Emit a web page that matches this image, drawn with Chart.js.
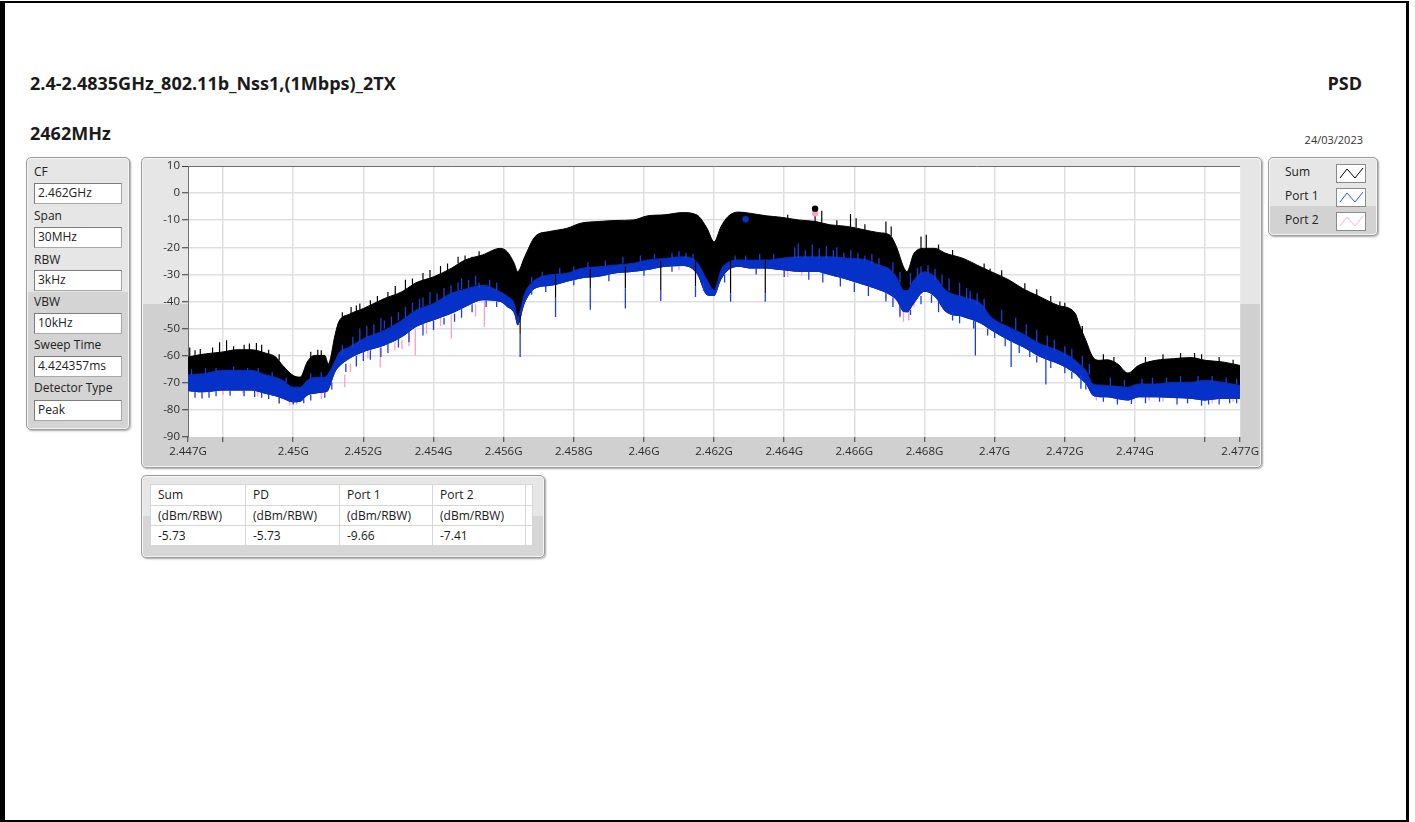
<!DOCTYPE html>
<html>
<head>
<meta charset="utf-8">
<script src="https://cdn.jsdelivr.net/npm/chart.js@4/dist/chart.umd.min.js"></script>
<style>
  html, body { margin: 0; padding: 0; background: #fff; }
  body { width: 1415px; height: 822px; position: relative; overflow: hidden; font-family: "Open Sans", "Noto Sans", sans-serif; color: #1a1a1a; }
  .frame { position: absolute; left: 0; top: 1px; width: 1401px; height: 817px; border-top: 2px solid #000; border-bottom: 2px solid #000; border-left: 5px solid #000; border-right: 3px solid #000; }
  .t { position: absolute; white-space: nowrap; line-height: 1; }
  .panel { position: absolute; border: 1px solid #9c9c9c; border-radius: 5px; box-shadow: 1px 1px 2px rgba(0,0,0,0.35), inset 0 0 0 1px #f4f4f4; box-sizing: border-box; }
  .box { position: absolute; background: #fff; border: 1px solid #a8a8a8; border-top-color: #7d7d7d; border-left-color: #7d7d7d; box-sizing: border-box; }
  .sw { position: absolute; background: #fff; border: 1px solid #8a8a8a; box-sizing: border-box; width: 30px; height: 19px; left: 1336px; }
  table.res { position: absolute; left: 150px; top: 484px; border-collapse: collapse; background: #fff; font-size: 12px; }
  table.res td { border: 1px solid #d6d6d6; height: 19px; padding: 0 0 0 7px; box-sizing: border-box; vertical-align: middle; line-height: 1; }
</style>
</head>
<body>
<div class="frame"></div>

<div class="t" style="left:30px; top:74px; font-size:18px; font-weight:700;">2.4-2.4835GHz_802.11b_Nss1,(1Mbps)_2TX</div>
<div class="t" style="right:53px; top:74px; font-size:18px; font-weight:700;">PSD</div>
<div class="t" style="left:30px; top:124px; font-size:18px; font-weight:700;">2462MHz</div>
<div class="t" style="right:52px; top:134px; font-size:11px; color:#333;">24/03/2023</div>

<div class="panel" style="left:26px; top:157px; width:104px; height:273px; background: linear-gradient(#e6e6e6 0, #e6e6e6 134px, #d4d4d4 134px);"></div>
<div id="settings"></div>

<div class="panel" style="left:141px; top:157px; width:1121px; height:311px; background: linear-gradient(#e6e6e6 0, #e6e6e6 146px, #d0d0d0 146px);"></div>
<canvas id="c" width="1121" height="311" style="position:absolute; left:141px; top:157px;"></canvas>

<div class="panel" style="left:1268px; top:157px; width:110px; height:79px; background: linear-gradient(#e6e6e6 0, #e6e6e6 48px, #d2d2d2 48px);"></div>
<div id="legend"></div>

<div class="panel" style="left:141px; top:475px; width:404px; height:83px; background: linear-gradient(#e6e6e6 0, #e6e6e6 40px, #d6d6d6 40px);"></div>
<table class="res" id="res"></table>

<script>
// ---------------- data ----------------
const settingLabels = ['CF', 'Span', 'RBW', 'VBW', 'Sweep Time', 'Detector Type'];
const settingValues = ['2.462GHz', '30MHz', '3kHz', '10kHz', '4.424357ms', 'Peak'];

const seriesNames = ['Sum', 'Port 1', 'Port 2'];
const seriesColors = ['#000000', '#0631c8', '#ff9ccb'];

const tableHeaders = ['Sum', 'PD', 'Port 1', 'Port 2'];
const tableUnits = ['(dBm/RBW)', '(dBm/RBW)', '(dBm/RBW)', '(dBm/RBW)'];
const tableValues = ['-5.73', '-5.73', '-9.66', '-7.41'];

const xTickValues = [2.447, 2.448, 2.450, 2.452, 2.454, 2.456, 2.458, 2.460, 2.462, 2.464, 2.466, 2.468, 2.470, 2.472, 2.474, 2.476, 2.477];
const xTickLabels = ['2.447G', '', '2.45G', '2.452G', '2.454G', '2.456G', '2.458G', '2.46G', '2.462G', '2.464G', '2.466G', '2.468G', '2.47G', '2.472G', '2.474G', '', '2.477G'];

// envelope frequencies (GHz)
const freqGHz = [2.4470, 2.4474, 2.4480, 2.4484, 2.4488, 2.4492, 2.4495, 2.4497, 2.4500, 2.4502,
  2.4504, 2.4506, 2.4509, 2.4510, 2.4512, 2.4513, 2.4516, 2.4520, 2.4526, 2.4531,
  2.4535, 2.4540, 2.4545, 2.4549, 2.4554, 2.4559, 2.4561, 2.4563, 2.4564, 2.4566,
  2.4569, 2.4573, 2.4578, 2.4582, 2.4587, 2.4592, 2.4597, 2.4601, 2.4606, 2.4611,
  2.4615, 2.4618, 2.4620, 2.4622, 2.4624, 2.4627, 2.4630, 2.4635, 2.4639, 2.4644,
  2.4649, 2.4653, 2.4658, 2.4663, 2.4667, 2.4670, 2.4672, 2.4674, 2.4675, 2.4677,
  2.4680, 2.4683, 2.4686, 2.4691, 2.4696, 2.4699, 2.4704, 2.4708, 2.4713, 2.4718,
  2.4723, 2.4724, 2.4726, 2.4728, 2.4730, 2.4732, 2.4735, 2.4738, 2.4741, 2.4746,
  2.4751, 2.4756, 2.4760, 2.4765, 2.4770];

// Sum trace: upper envelope (dBm)
const sumTop = [-60.5, -59.5, -58.6, -57.8, -57.8, -59, -60.5, -63.6, -67.3, -67.9,
  -62.3, -59.9, -59.9, -63, -51.9, -47.5, -44.7, -42.6, -38.9, -36.4,
  -33.1, -30.9, -27.8, -24.7, -22.8, -20.4, -21.6, -25.9, -29, -23.5,
  -16, -14.2, -13, -11.1, -10.5, -10.1, -9.9, -8.4, -8, -7.2,
  -8, -13, -18, -12.3, -8.6, -7, -7.4, -8.4, -8.9, -9.9,
  -10.5, -11.7, -12.3, -13.6, -14.6, -15.4, -19.8, -27.2, -29, -22.2,
  -20.4, -20.4, -22.2, -24.1, -27.2, -29, -32, -35.2, -38.3, -41.4,
  -44.4, -48.1, -54.3, -60.5, -61.7, -61.5, -63, -66.4, -63.6, -61.7,
  -61.1, -60.7, -61.7, -62.3, -63.6];

// Port 1 trace: upper and lower envelope of its dense core (dBm)
const port1Top = [-67, -66.7, -65.4, -65.4, -65.4, -67, -68, -69.1, -71.6, -71.6,
  -69.1, -68, -67.9, -66.7, -61.7, -59, -56.8, -53.7, -50.6, -46.9,
  -43.2, -40.7, -37, -35.5, -34, -36.4, -38, -40.7, -45.7, -37,
  -32, -30.2, -29.6, -27.8, -27.2, -26.5, -25.9, -24.7, -24.1, -23.5,
  -25.3, -32, -35.8, -28.4, -25.5, -24.7, -24.7, -24.7, -24.1, -23.5,
  -23.5, -23.5, -24, -24.5, -26.5, -28, -30.9, -35.8, -36, -32,
  -29, -30.9, -35.8, -38.3, -40.7, -45.7, -49.4, -51.9, -55.6, -58,
  -61.7, -63, -65.4, -70.4, -70.8, -71, -71.3, -71.6, -70.4, -70.4,
  -69.8, -69.8, -69.1, -69.8, -71];
const port1Low = [-73, -73.5, -72.8, -72.8, -72.8, -74, -75, -75.9, -77.2, -77,
  -74.7, -74, -73.5, -72.8, -66, -64.2, -61.1, -58.6, -56.2, -53.1,
  -49.4, -46.9, -44.5, -42, -39.5, -40.1, -42, -44.4, -48.8, -40.7,
  -35.2, -34.3, -32.7, -31.5, -30.9, -29.6, -29, -28.4, -27.2, -26.9,
  -29.6, -37.7, -38, -32, -28.5, -27.2, -27.8, -27.8, -28.4, -29,
  -29, -30.2, -32, -34, -35.8, -37.5, -39.5, -43.8, -44, -40.7,
  -36.4, -38.3, -43.8, -45.7, -48.1, -50.6, -54.3, -56.8, -60.5, -63,
  -66.7, -68, -70.4, -74.7, -75.3, -75.3, -76, -76.5, -75.3, -75.3,
  -75.6, -75.9, -76.5, -75.9, -75.9];

// individual spikes: [frequency GHz, from dBm, to dBm]
const sumSpikes = [
  [2.44705,-61,-57],[2.44735,-60,-57.5],[2.4479,-59,-55],[2.4481,-58.5,-54.3],[2.44875,-58.5,-55.5],
  [2.44895,-59,-55.3],[2.4491,-59.5,-56],[2.4508,-60.5,-58],[2.45165,-45,-42],[2.4519,-43,-40.7],
  [2.45291,-38,-34.3],[2.4532,-36,-32],[2.4539,-31.5,-28.4],[2.4542,-30,-26.9],[2.4547,-26,-23.5],
  [2.4549,-25,-23],[2.4551,-24.5,-23.5],[2.46488,-10.8,-6],[2.46507,-11,-6.5],[2.46589,-12.5,-7.7],
  [2.46605,-12.8,-9.3],[2.4669,-14.8,-10.5],[2.46705,-15.8,-12.3],[2.4679,-21,-16],[2.46805,-20.8,-15.4],
  [2.46987,-29.3,-27.8],[2.47086,-35.4,-33.3],[2.47186,-41.6,-40],[2.4720,-42.8,-40.5],
  [2.4472,-60.5,-58],[2.4477,-59.5,-57],[2.4483,-58.4,-56.5],[2.4486,-58,-56],[2.4493,-59.6,-57.8],
  [2.4496,-61.8,-59.5],[2.4505,-61.3,-58.5],[2.4507,-60.2,-57.8],[2.4514,-46.8,-44],[2.4518,-44,-41.5],
  [2.4522,-41.8,-39.5],[2.4524,-40.8,-38],[2.4527,-38.7,-36.5],[2.4534,-34.2,-31.5],[2.4537,-32.3,-29.5],
  [2.4544,-28.7,-26],[2.4553,-23.4,-21.5],[2.4641,-9.5,-8],[2.4655,-12.1,-10],[2.4663,-13.8,-11.5],
  [2.4684,-21.2,-19],[2.4688,-23.2,-21],[2.4697,-28,-26],[2.4702,-30.8,-28.5],[2.4712,-37.8,-35.5],
  [2.4716,-40.4,-38],[2.4725,-52,-49],[2.4731,-61.8,-59.5],[2.4734,-62.7,-60.5],[2.4743,-62.6,-60.5],
  [2.4748,-61.6,-59.5],[2.4753,-61.2,-59],[2.4757,-61,-59],[2.4759,-61.4,-59.5],[2.4764,-62.4,-60.5],
  [2.4768,-63.2,-61.5],
  [2.45647,-45,-52],[2.45748,-30,-38.3],[2.45847,-28,-35.2],[2.45947,-27,-35.2],[2.46048,-25,-36],
  [2.46147,-25,-34.5],[2.46247,-25,-37],[2.46346,-25,-37]
];
const port1Spikes = [
  [2.45647,-52,-60.5],[2.45748,-38.3,-45.7],[2.45847,-35.2,-43],[2.45947,-35.2,-42.6],[2.46048,-36,-39.8],
  [2.46147,-34.5,-38.3],[2.46247,-37,-40.1],[2.46346,-37,-40.1],[2.46945,-47,-59.9],[2.47047,-54.5,-64.2],
  [2.47146,-60,-70.6],[2.47246,-67,-72.2],
  // short spikes under the dense core
  [2.4472,-73.3,-75.5],[2.4474,-73.5,-75.8],[2.4476,-73,-75.5],[2.4478,-73,-75],[2.4482,-72.8,-74.8],
  [2.4486,-72.8,-75],[2.4489,-72.8,-75.2],[2.4491,-73.5,-75.5],[2.4493,-74,-76],[2.4496,-75.5,-77.5],
  [2.4500,-77,-78],[2.4503,-76,-77.5],[2.4505,-74.5,-76.5],[2.4509,-73.5,-75.5],[2.4511,-70,-72.5],
  [2.4515,-63,-66],[2.4518,-60,-64],[2.4520,-58.6,-62],[2.4522,-58,-61.5],[2.4525,-57,-60.5],
  [2.4527,-55.5,-59],[2.4530,-53.5,-57],[2.4533,-51,-55],[2.4537,-48,-52.5],[2.4540,-47,-50.5],
  [2.4543,-46,-48.5],[2.4546,-44.5,-47.5],[2.4548,-42.5,-46],[2.4551,-41,-44],[2.4555,-39.5,-42],
  [2.4558,-40,-42],[2.4568,-35.5,-37.5],[2.4572,-34.3,-36.5],[2.4580,-32,-34],[2.4590,-30,-32.5],
  [2.4600,-28.5,-30.5],[2.4608,-27,-29],[2.4617,-33,-36],[2.4623,-30,-33],[2.4632,-27.8,-30],
  [2.4640,-28.5,-31],[2.4647,-29,-32],[2.4651,-29.5,-33],[2.4656,-31,-34.5],[2.4660,-33,-36.5],
  [2.4664,-34.5,-38],[2.4669,-37,-40],[2.4671,-38.5,-42],[2.4673,-41.5,-45.5],[2.4676,-43,-45],
  [2.4679,-38,-41],[2.4682,-37.5,-40.5],[2.4684,-40,-44],[2.4688,-44,-47],[2.4690,-45.3,-48],
  [2.4694,-47,-50],[2.4698,-50,-52.5],[2.4700,-51,-53.5],[2.4703,-53.5,-56.5],[2.4707,-56,-59],
  [2.4710,-58,-60.5],[2.4712,-60,-62.5],[2.4716,-62,-64.5],[2.4720,-64,-66.5],[2.4722,-66,-68.5],
  [2.4726,-70,-72.5],[2.4731,-75.3,-77],[2.4735,-76,-78],[2.4739,-76.3,-77.8],[2.4743,-75.3,-77.5],
  [2.4747,-75.3,-77],[2.4752,-75.6,-78],[2.4755,-75.8,-77.5],[2.4759,-76.3,-78.5],[2.4761,-76.3,-78],
  [2.4764,-76,-78],[2.4767,-75.9,-77.5],[2.4769,-75.9,-77.5],
  // spikes reaching up into the Sum trace
  [2.4471,-67,-65],[2.4475,-66.7,-64.5],[2.4478,-66,-64.5],[2.4483,-65.4,-64],[2.4487,-65.4,-64.5],
  [2.4490,-66,-64.5],[2.4494,-67.5,-66],[2.4498,-70,-68],[2.4505,-68.5,-66.5],[2.4508,-68,-66],
  [2.4514,-60,-56],[2.4517,-57,-53],[2.4519,-55,-50],[2.4521,-53.5,-49],[2.4523,-52.5,-48.5],
  [2.4525,-51,-46],[2.4526,-50,-47],[2.4528,-49,-45.5],[2.4530,-47,-44],[2.4532,-46,-42],
  [2.4534,-44,-40.5],[2.4536,-43,-39],[2.4537,-42,-38.5],[2.4539,-41,-36.5],[2.4541,-40,-37],
  [2.4543,-39,-35],[2.4545,-37,-34],[2.4547,-36,-33],[2.4548,-35.5,-31.5],[2.4550,-35,-32],
  [2.4552,-34,-30.5],[2.4553,-35,-33],[2.4556,-35,-32],[2.4558,-36,-33],
  [2.4568,-33,-31],[2.4571,-31,-29],[2.4576,-30,-27.5],[2.4580,-29,-27],[2.4584,-27.5,-25.5],
  [2.4589,-27,-25],[2.4594,-26,-23.5],[2.4599,-25.5,-23],[2.4603,-24.5,-22.5],[2.4608,-24,-22],
  [2.4610,-23.5,-21.5],[2.4612,-24,-22],[2.4614,-25,-22.5],
  [2.4626,-25,-23],[2.4629,-24.7,-23],[2.4633,-24.7,-22.5],[2.4637,-24.5,-22.5],
  [2.4643,-24,-20],[2.4644,-24,-18.5],[2.4646,-24,-21],[2.4648,-24,-19],[2.4650,-24,-20.5],
  [2.4652,-24,-19.5],[2.4654,-24,-21],[2.4655,-24,-20],[2.4657,-24,-22],[2.4659,-24.5,-21],
  [2.4661,-25,-22],[2.4663,-25,-23],[2.4665,-26,-22.5],[2.4667,-27,-24],
  [2.4671,-29,-25.5],[2.4673,-33,-29],[2.4676,-34,-29.5],[2.4678,-31,-27.5],[2.4679,-30,-27],
  [2.4681,-29.5,-26.5],[2.4683,-32,-28],[2.4685,-34,-30],[2.4687,-36,-31.5],[2.4690,-38,-33],
  [2.4692,-39,-35],[2.4693,-40,-36],[2.4695,-41,-37],[2.4697,-43,-39],
  [2.4702,-47.5,-43],[2.4706,-50.5,-46],[2.4709,-52.5,-48.5],[2.4712,-55,-50.5],[2.4715,-57,-52.5],
  [2.4717,-58,-54],[2.4720,-60,-56.5],[2.4722,-61,-57.5],[2.4725,-64,-60],[2.4727,-67,-63],
  [2.4733,-71,-68],[2.4737,-71.3,-69],[2.4742,-70.4,-68.5],[2.4745,-70.4,-68],[2.4749,-70,-68],
  [2.4753,-69.8,-67.5],[2.4758,-69.5,-67.5],[2.4762,-69.5,-67.5],[2.4766,-70,-68],[2.4769,-70.5,-68.5]
];
const port2Spikes = [
  [2.4480,-72.5,-74.5],[2.44857,-72.5,-74],[2.44899,-73,-75],[2.4496,-75,-77.8],[2.4499,-76,-78.4],
  [2.4501,-76.5,-78],[2.4508,-73.5,-76],[2.45147,-67,-71.6],[2.45163,-63,-66],[2.45213,-58,-61],
  [2.45248,-57,-64.4],[2.4529,-55,-58],[2.4531,-54,-57.5],[2.4533,-51,-56.5],[2.45348,-50,-59.9],
  [2.4538,-48,-52],[2.4540,-47,-50],[2.4542,-46,-49],[2.45451,-45,-53.7],[2.45545,-40,-49.4],
  [2.4552,-41,-45.5],[2.4610,-27,-28.5],[2.4632,-27.5,-29.5],[2.4641,-27,-31],[2.4645,-28,-30.5],
  [2.46543,-29,-31],[2.4660,-31,-33],[2.46648,-33,-35],[2.4669,-36,-39],[2.4673,-41,-46],
  [2.4674,-42,-47.5],[2.46755,-42,-47],[2.4677,-40,-42],[2.4729,-74,-76.5],[2.4735,-75,-77],
  [2.4744,-75,-76.5],[2.4748,-75,-77],[2.4755,-75.5,-77.5],[2.4762,-76,-77.5],[2.4768,-75.5,-77]
];

// peak markers (Port 1, Port 2, Sum)
const peakFreqs = [2.46290, 2.46488, 2.46488];
const peakValues = [-9.66, -7.41, -5.73];
const peakColors = ['#0631c8', '#ff9ccb', '#000000'];

// ---------------- static HTML parts ----------------
const FONT = '"Open Sans", "Noto Sans", sans-serif';
(function () {
  const s = document.getElementById('settings');
  const labelBase = [177, 221, 265, 307, 350, 393];
  const boxTop = [183, 227, 270, 313, 356, 400];
  let html = '';
  settingLabels.forEach((lab, i) => {
    html += `<div class="t" style="left:34px; top:${labelBase[i] - 10.7}px; font-size:12px; color:#222;">${lab}</div>`;
    html += `<div class="box" style="left:34px; top:${boxTop[i]}px; width:88px; height:21px;"></div>`;
    html += `<div class="t" style="left:38px; top:${boxTop[i] + 15 - 10.7}px; font-size:12px; color:#222;">${settingValues[i]}</div>`;
  });
  s.innerHTML = html;

  const lg = document.getElementById('legend');
  const lgBase = [177, 201, 225];
  const swTop = [164, 188, 212];
  const swLine = ['#000000', '#2f55e0', '#ffb0d2'];
  let lh = '';
  seriesNames.forEach((n, i) => {
    lh += `<div class="t" style="left:1285px; top:${lgBase[i] - 10.7}px; font-size:12px; color:#222;">${n}</div>`;
    lh += `<div class="sw" style="top:${swTop[i]}px;"><svg width="28" height="17" style="position:absolute;left:0;top:0"><polyline points="3,13 10,4 18,13 26,3" fill="none" stroke="${swLine[i]}" stroke-width="1"/></svg></div>`;
  });
  lg.innerHTML = lh;

  const t = document.getElementById('res');
  const widths = [95, 94, 93, 93, 7];
  const rowH = [21, 20, 20];
  const rows = [tableHeaders, tableUnits, tableValues];
  let th = '';
  rows.forEach((r, ri) => {
    th += '<tr>';
    r.forEach((c, ci) => { th += `<td style="width:${widths[ci]}px; height:${rowH[ri]}px;">${c}</td>`; });
    th += `<td style="width:${widths[4]}px; height:${rowH[ri]}px; padding:0;"></td></tr>`;
  });
  t.innerHTML = th;
})();

// ---------------- chart ----------------
function toPoints(xs, ys) { return xs.map((x, i) => ({ x: x, y: ys[i] })); }
function spikePoints(list) {
  const out = [];
  list.forEach(s => { out.push({ x: s[0], y: s[1] }, { x: s[0], y: s[2] }, { x: s[0], y: null }); });
  return out;
}

const plotBg = {
  id: 'plotBg',
  beforeDraw(chart) {
    const { ctx, chartArea: a } = chart;
    ctx.save();
    ctx.fillStyle = '#ffffff';
    ctx.fillRect(a.left, a.top, a.right - a.left, a.bottom - a.top);
    ctx.restore();
  }
};

const tickFont = { family: FONT, size: 11.5 };

new Chart(document.getElementById('c'), {
  type: 'line',
  data: {
    datasets: [
      { // 0: Port 1 lower envelope (fill target)
        data: toPoints(freqGHz, port1Low), borderColor: 'rgba(0,0,0,0)', borderWidth: 0,
        backgroundColor: 'rgba(0,0,0,0)', fill: false, order: 20, pointRadius: 0,
        cubicInterpolationMode: 'monotone'
      },
      { // 1: Port 2 spikes
        data: spikePoints(port2Spikes), borderColor: seriesColors[2], borderWidth: 1.3,
        fill: false, spanGaps: false, order: 15, pointRadius: 0
      },
      { // 2: Sum band
        data: toPoints(freqGHz, sumTop), borderColor: seriesColors[0], borderWidth: 1,
        backgroundColor: seriesColors[0], fill: { target: 0 }, order: 12, pointRadius: 0,
        cubicInterpolationMode: 'monotone'
      },
      { // 3: Port 1 band
        data: toPoints(freqGHz, port1Top), borderColor: seriesColors[1], borderWidth: 0.8,
        backgroundColor: seriesColors[1], fill: { target: 0 }, order: 11, pointRadius: 0,
        cubicInterpolationMode: 'monotone'
      },
      { // 4: Sum spikes
        data: spikePoints(sumSpikes), borderColor: seriesColors[0], borderWidth: 1.2,
        fill: false, spanGaps: false, order: 8, pointRadius: 0
      },
      { // 5: Port 1 spikes
        data: spikePoints(port1Spikes), borderColor: '#1a3fd6', borderWidth: 1.3,
        fill: false, spanGaps: false, order: 6, pointRadius: 0
      },
      { // 6: peak markers
        data: toPoints(peakFreqs, peakValues), showLine: false, fill: false, order: 1,
        pointRadius: 3.2, pointBorderWidth: 0, pointBackgroundColor: peakColors, borderColor: 'rgba(0,0,0,0)'
      }
    ]
  },
  options: {
    responsive: false,
    animation: false,
    devicePixelRatio: 1,
    events: [],
    layout: { padding: { top: 9, right: 21, left: 0, bottom: 0 } },
    plugins: { legend: { display: false }, tooltip: { enabled: false } },
    elements: { line: { tension: 0 } },
    scales: {
      x: {
        type: 'linear', min: 2.447, max: 2.477,
        afterBuildTicks: (s) => { s.ticks = xTickValues.map(v => ({ value: v })); },
        afterFit: (s) => { s.height = 31; },
        ticks: { autoSkip: false, maxRotation: 0, minRotation: 0, padding: 3, color: '#2d2d2d', font: tickFont,
          callback: (v, i) => xTickLabels[i] },
        grid: {
          color: (c) => (c.index === 0 || c.index === xTickValues.length - 1) ? 'rgba(0,0,0,0)' : '#dfdfdf',
          lineWidth: 1.5, drawTicks: true, tickLength: 5, tickColor: '#3a3a3a', tickWidth: 1
        },
        border: { display: false }
      },
      y: {
        min: -90, max: 10,
        afterFit: (s) => { s.width = 47; },
        ticks: { stepSize: 10, padding: 2, color: '#2d2d2d', font: tickFont },
        grid: {
          color: (c) => c.tick.value === 10 ? '#6f6f6f' : (c.tick.value === -90 ? 'rgba(0,0,0,0)' : '#dfdfdf'),
          lineWidth: (c) => c.tick.value === 10 ? 1 : 1.5,
          drawTicks: true, tickLength: 6, tickColor: '#3a3a3a', tickWidth: 1
        },
        border: { display: true, color: '#6f6f6f', width: 1 }
      }
    }
  },
  plugins: [plotBg]
});
</script>
</body>
</html>
